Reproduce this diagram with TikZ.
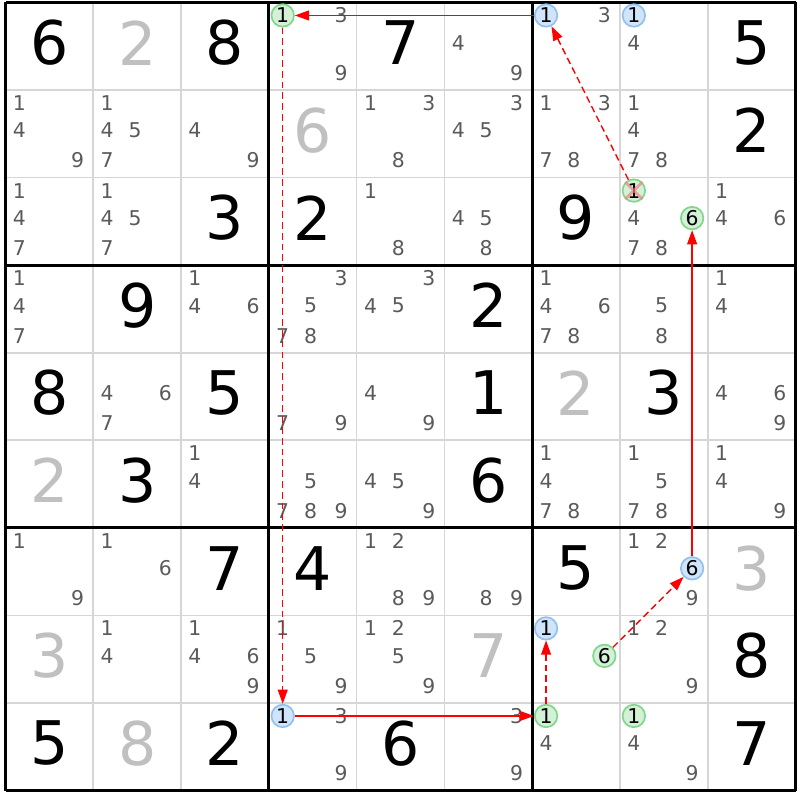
\documentclass[tikz,border=0pt]{standalone}
\usepackage{fontspec}
\setmainfont{DejaVu Sans}
\usetikzlibrary{arrows.meta}

\definecolor{candgray}{RGB}{90,90,90}
\definecolor{solvedgray}{RGB}{192,192,192}
\definecolor{gridgray}{RGB}{214,214,214}
\definecolor{onfill}{RGB}{212,240,214}
\definecolor{online}{RGB}{130,214,140}
\definecolor{offfill}{RGB}{208,228,250}
\definecolor{offline}{RGB}{146,192,240}
\definecolor{chainred}{RGB}{255,0,0}
\definecolor{crosspink}{RGB}{240,130,130}

\tikzset{
	cand/.style={inner sep=0pt, text=candgray, font=\fontsize{6.6}{7}\selectfont},
	given/.style={inner sep=0pt, font=\fontsize{19.5}{20}\selectfont},
	solved/.style={given, text=solvedgray},
	onring/.style={cand, circle, text=black, draw=online, fill=onfill, line width=0.55pt, minimum size=7.3pt},
	offring/.style={onring, draw=offline, fill=offfill},
	strong/.style={chainred, line width=0.45pt, -{Triangle[length=4.6pt, width=3.2pt]}},
	weak/.style={strong, dash pattern=on 2.2pt off 1.3pt},
	crossout/.style={crosspink, line width=0.9pt, opacity=0.7},
	thingrid/.style={gridgray, line width=0.55pt},
	boxgrid/.style={black, line width=1pt}
}

\def\candx{{0.158,0.475,0.822}}
\def\candy{{0.148,0.462,0.805}}

\newcommand{\cands}[3]{%
	\foreach \dg in {#3} {
		\pgfmathtruncatemacro{\ci}{mod(\dg-1,3)}
		\pgfmathtruncatemacro{\ri}{(\dg-1)/3}
		\pgfmathsetmacro{\px}{#2-1+\candx[\ci]}
		\pgfmathsetmacro{\py}{1-#1-\candy[\ri]}
		\node[cand] (k#1#2\dg) at (\px,\py) {\dg};
	}}
\newcommand{\ringcand}[4]{%
	\pgfmathtruncatemacro{\ci}{mod(#4-1,3)}
	\pgfmathtruncatemacro{\ri}{(#4-1)/3}
	\pgfmathsetmacro{\px}{#3-1+\candx[\ci]}
	\pgfmathsetmacro{\py}{1-#2-\candy[\ri]}
	\node[#1] (k#2#3#4) at (\px,\py) {#4};}
\newcommand{\celldigit}[4][given]{%
	\node[#1] (v#2#3) at (#3-0.5,0.54-#2) {#4};}

\begin{document}
\begin{tikzpicture}[x=1cm, y=0.9975cm]
	\useasboundingbox (-0.0627,0.0286) rectangle (9.051,-9.108);
	\foreach \i in {1,2,4,5,7,8} {
		\draw[thingrid] (\i,0) -- (\i,-9);
		\draw[thingrid] (0,-\i) -- (9,-\i);
	}
	\foreach \i in {0,3,6,9} {
		\draw[boxgrid] (\i,0) -- (\i,-9);
		\draw[boxgrid] (0,-\i) -- (9,-\i);
	}

	% row 1
	\celldigit{1}{1}{6}
	\celldigit[solved]{1}{2}{2}
	\celldigit{1}{3}{8}
	\cands{1}{4}{3,9}
	\ringcand{onring}{1}{4}{1}
	\celldigit{1}{5}{7}
	\cands{1}{6}{4,9}
	\cands{1}{7}{3}
	\ringcand{offring}{1}{7}{1}
	\cands{1}{8}{4}
	\ringcand{offring}{1}{8}{1}
	\celldigit{1}{9}{5}
	% row 2
	\cands{2}{1}{1,4,9}
	\cands{2}{2}{1,4,5,7}
	\cands{2}{3}{4,9}
	\celldigit[solved]{2}{4}{6}
	\cands{2}{5}{1,3,8}
	\cands{2}{6}{3,4,5}
	\cands{2}{7}{1,3,7,8}
	\cands{2}{8}{1,4,7,8}
	\celldigit{2}{9}{2}
	% row 3
	\cands{3}{1}{1,4,7}
	\cands{3}{2}{1,4,5,7}
	\celldigit{3}{3}{3}
	\celldigit{3}{4}{2}
	\cands{3}{5}{1,8}
	\cands{3}{6}{4,5,8}
	\celldigit{3}{7}{9}
	\cands{3}{8}{4,7,8}
	\ringcand{onring}{3}{8}{1}
	\ringcand{onring}{3}{8}{6}
	\cands{3}{9}{1,4,6}
	% row 4
	\cands{4}{1}{1,4,7}
	\celldigit{4}{2}{9}
	\cands{4}{3}{1,4,6}
	\cands{4}{4}{3,5,7,8}
	\cands{4}{5}{3,4,5}
	\celldigit{4}{6}{2}
	\cands{4}{7}{1,4,6,7,8}
	\cands{4}{8}{5,8}
	\cands{4}{9}{1,4}
	% row 5
	\celldigit{5}{1}{8}
	\cands{5}{2}{4,6,7}
	\celldigit{5}{3}{5}
	\cands{5}{4}{7,9}
	\cands{5}{5}{4,9}
	\celldigit{5}{6}{1}
	\celldigit[solved]{5}{7}{2}
	\celldigit{5}{8}{3}
	\cands{5}{9}{4,6,9}
	% row 6
	\celldigit[solved]{6}{1}{2}
	\celldigit{6}{2}{3}
	\cands{6}{3}{1,4}
	\cands{6}{4}{5,7,8,9}
	\cands{6}{5}{4,5,9}
	\celldigit{6}{6}{6}
	\cands{6}{7}{1,4,7,8}
	\cands{6}{8}{1,5,7,8}
	\cands{6}{9}{1,4,9}
	% row 7
	\cands{7}{1}{1,9}
	\cands{7}{2}{1,6}
	\celldigit{7}{3}{7}
	\celldigit{7}{4}{4}
	\cands{7}{5}{1,2,8,9}
	\cands{7}{6}{8,9}
	\celldigit{7}{7}{5}
	\cands{7}{8}{1,2,9}
	\ringcand{offring}{7}{8}{6}
	\celldigit[solved]{7}{9}{3}
	% row 8
	\celldigit[solved]{8}{1}{3}
	\cands{8}{2}{1,4}
	\cands{8}{3}{1,4,6,9}
	\cands{8}{4}{1,5,9}
	\cands{8}{5}{1,2,5,9}
	\celldigit[solved]{8}{6}{7}
	\ringcand{offring}{8}{7}{1}
	\ringcand{onring}{8}{7}{6}
	\cands{8}{8}{1,2,9}
	\celldigit{8}{9}{8}
	% row 9
	\celldigit{9}{1}{5}
	\celldigit[solved]{9}{2}{8}
	\celldigit{9}{3}{2}
	\cands{9}{4}{3,9}
	\ringcand{offring}{9}{4}{1}
	\celldigit{9}{5}{6}
	\cands{9}{6}{3,9}
	\cands{9}{7}{4}
	\ringcand{onring}{9}{7}{1}
	\cands{9}{8}{4,9}
	\ringcand{onring}{9}{8}{1}
	\celldigit{9}{9}{7}

	\draw[crossout] (k381.north east) -- (k381.south west) (k381.north west) -- (k381.south east);

	\draw[strong] (k171) -- (k141);
	\draw[weak] (k141) -- (k941);
	\draw[strong] (k941) -- (k971);
	\draw[weak] (k971) -- (k871);
	\draw[weak] (k876) -- (k786);
	\draw[strong] (k786) -- (k386);
	\draw[weak] (k381) -- (k171);
\end{tikzpicture}
\end{document}
